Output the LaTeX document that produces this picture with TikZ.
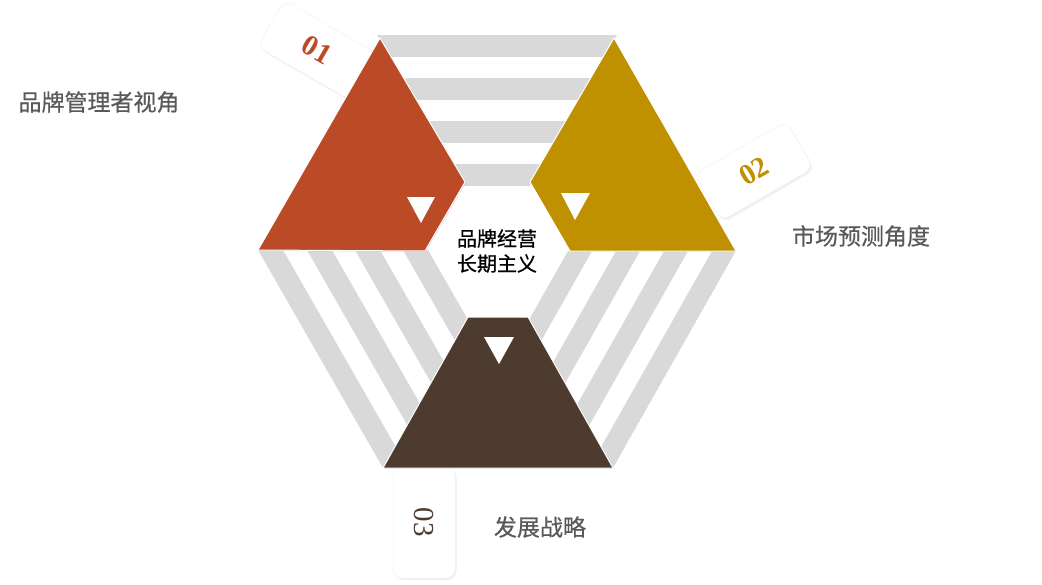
\documentclass[tikz,border=0pt]{standalone}
\usepackage{fontspec}
\setmainfont{Liberation Serif}
\newfontfamily\cjk{Noto Sans CJK SC}
\newfontfamily\cjkmid[FakeBold=0.6]{Noto Sans CJK SC}
\usetikzlibrary{shadows}
\definecolor{brandred}{RGB}{187,75,39}
\definecolor{brandgold}{RGB}{191,144,0}
\definecolor{brandbrown}{RGB}{78,59,48}
\definecolor{stripegray}{RGB}{217,217,217}
\definecolor{labelgray}{RGB}{89,89,89}
\tikzset{
  stripe/.style={fill=stripegray},
  piece/.style={draw=white, line width=1pt,
    drop shadow={shadow xshift=0.8pt, shadow yshift=-0.8pt, opacity=0.3}},
  card/.style={draw=gray!12, fill=white, rounded corners=9pt,
    minimum width=106pt, minimum height=54pt, inner sep=0pt,
    drop shadow={shadow xshift=1.5pt, shadow yshift=-2pt, opacity=0.12}},
  tipmark/.style={fill=white},
  sidetext/.style={font=\cjkmid\fontsize{23}{28}\selectfont, text=labelgray},
  num/.style={font=\fontsize{29}{30}\selectfont\bfseries}
}
\begin{document}
\begin{tikzpicture}[x=1pt,y=-1pt]
        \useasboundingbox (0,0) rectangle (1042,584);
        % number cards, behind the pieces
        \node[card, num, rotate=-30, text=brandred] (card1) at (317,50) {01};
        \node[card, num, rotate=30, text=brandgold] (card2) at (754,171) {02};
        \node[card, rotate=-90, minimum width=112pt, minimum height=62pt,
              font=\fontsize{29}{30}\selectfont, text=brandbrown] (card3) at (424,522) {03};
        % stripes
        \begin{scope}
            \clip (377,35) -- (617,35) -- (497,243) -- cycle;
            \foreach \i in {0,...,3}
                \fill[stripe] (370,35+43*\i) rectangle (624,57+43*\i);
        \end{scope}
        \begin{scope}
            \clip (258,250) -- (506,250) -- (383,468) -- cycle;
            \foreach \x in {258,307,355,403}
                \fill[stripe] (\x,250) -- (\x+25,250) -- (\x+25+126,470) -- (\x+126,470) -- cycle;
        \end{scope}
        \begin{scope}
            \clip (736,251) -- (488,251) -- (613,468) -- cycle;
            \foreach \x in {736,688,640,592}
                \fill[stripe] (\x,251) -- (\x-24,251) -- (\x-24-124,470) -- (\x-124,470) -- cycle;
        \end{scope}
        % the three pieces
        \filldraw[piece, fill=brandred] (380,38) -- (465,182) -- (425,251) -- (258,250) -- cycle;
        \filldraw[piece, fill=brandgold] (614,38) -- (736,251) -- (570,251) -- (530,182) -- cycle;
        \filldraw[piece, fill=brandbrown] (468,317) -- (528,317) -- (613,468) -- (383,468) -- cycle;
        \fill[tipmark] (407,197) -- (435,197) -- (421,223) -- cycle;
        \fill[tipmark] (561,193) -- (590,193) -- (575,220) -- cycle;
        \fill[tipmark] (484,337) -- (514,337) -- (499,364) -- cycle;
        % texts
        \node[align=center, font=\cjkmid\fontsize{20}{25}\selectfont] (core) at (497,251) {品牌经营\\长期主义};
        \node[sidetext] (brandview) at (99,102) {品牌管理者视角};
        \node[sidetext] (marketview) at (861,236) {市场预测角度};
        \node[sidetext] (growth) at (540,527) {发展战略};
    \end{tikzpicture}
\end{document}
